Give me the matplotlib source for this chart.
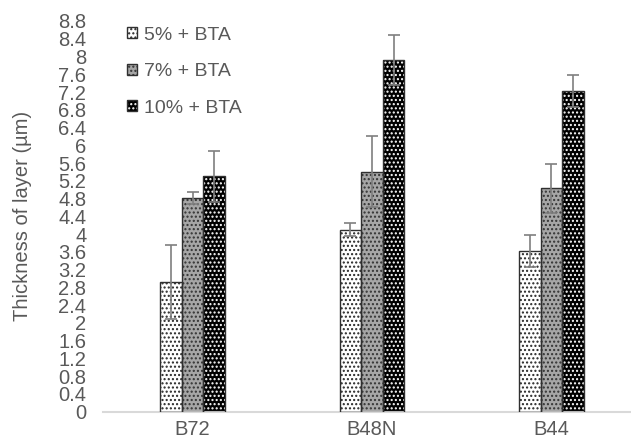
import numpy as np
import matplotlib.pyplot as plt

plt.rcParams['font.family'] = ['Liberation Sans', 'DejaVu Sans']

# data
samples = ['B72', 'B48N', 'B44']
series = ['5% + BTA', '7% + BTA', '10% + BTA']
vals_5 = [2.92, 4.10, 3.61]
vals_7 = [4.81, 5.41, 5.03]
vals_10 = [5.30, 7.92, 7.22]
err_5 = [0.83, 0.14, 0.36]
err_7 = [0.13, 0.81, 0.55]
err_10 = [0.58, 0.56, 0.36]
yticks = np.arange(0, 8.81, 0.4)

values = [vals_5, vals_7, vals_10]
errors = [err_5, err_7, err_10]
fills = ['white', '#a6a6a6', 'black']
dots = ['#262626', '#333333', 'white']
txt = '#595959'

fig = plt.figure(figsize=(6.31, 4.41), dpi=100)
ax = fig.add_axes([103 / 631, 29.3 / 441, 538 / 631, 390.7 / 441])

x = np.arange(len(samples))
w = 0.12
handles = []
for i, (v, e) in enumerate(zip(values, errors)):
    pos = x + (i - 1) * w
    # dotted fill first, dark outline on top
    b1 = ax.bar(pos, v, w, color=fills[i], edgecolor=dots[i], hatch='....', linewidth=0, zorder=2)
    b2 = ax.bar(pos, v, w, fill=False, edgecolor='#303030', linewidth=1.0, zorder=3)
    ax.errorbar(pos, v, yerr=e, fmt='none', ecolor='#7f7f7f', elinewidth=1.2,
                capsize=4, capthick=1.2, zorder=4)
    handles.append((b1.patches[0], b2.patches[0]))

ax.set_xlim(-0.5, 2.5)
ax.set_ylim(0, 8.8)
ax.set_yticks(yticks)
ax.set_yticklabels([f'{t:g}' for t in yticks])
ax.set_xticks(x)
ax.set_xticklabels(samples)
ax.tick_params(axis='y', length=0, pad=12, labelsize=14.5, labelcolor=txt)
ax.tick_params(axis='x', length=0, pad=6, labelsize=14.5, labelcolor=txt)
for s in ['top', 'right', 'left']:
    ax.spines[s].set_visible(False)
ax.spines['bottom'].set_color('#d9d9d9')
ax.spines['bottom'].set_linewidth(1.5)

ax.set_ylabel('Thickness of layer (µm)', fontsize=14.5, color=txt)
ax.yaxis.set_label_coords(-0.132, 0.5)

leg = ax.legend(handles, series, loc='upper left', bbox_to_anchor=(0.013, 1.03),
                frameon=False, fontsize=14, handlelength=0.5, handleheight=0.5,
                handletextpad=0.35, labelspacing=1.0)
for t in leg.get_texts():
    t.set_color(txt)

fig.savefig('out.png', dpi=100)
